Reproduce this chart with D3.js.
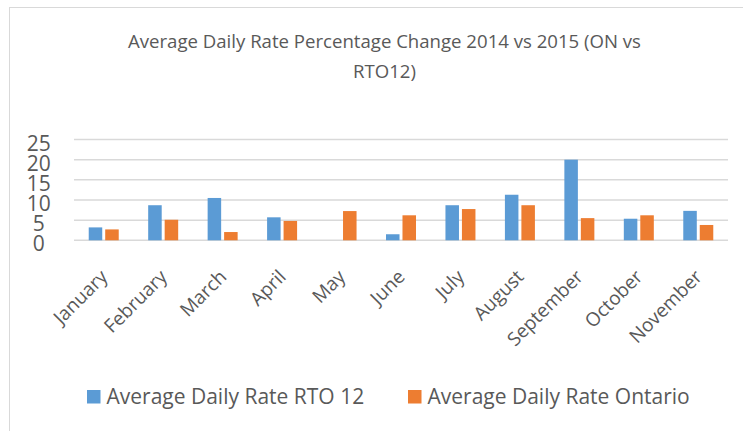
<!DOCTYPE html>
<html><head><meta charset="utf-8">
<script src="https://cdn.jsdelivr.net/npm/d3@7"></script>
<style>
html,body{margin:0;padding:0;background:#fff;}
svg{display:block;font-family:"Open Sans",sans-serif;}
</style></head>
<body>
<svg id="chart" width="743" height="431"></svg>
<script>
const titleLines = ["Average Daily Rate Percentage Change 2014 vs 2015 (ON vs", "RTO12)"];
const months = ["January","February","March","April","May","June","July","August","September","October","November"];
const seriesNames = ["Average Daily Rate RTO 12","Average Daily Rate Ontario"];
const rto12 = [3.2, 8.7, 10.5, 5.7, 0, 1.5, 8.7, 11.3, 20.0, 5.35, 7.3];
const ontario = [2.7, 5.1, 2.05, 4.8, 7.25, 6.2, 7.75, 8.7, 5.5, 6.2, 3.8];
const yTicks = [0, 5, 10, 15, 20, 25];
const colors = ["#5B9BD5", "#ED7D31"];

const svg = d3.select("#chart");
const textColor = "#595959";

// chart border
svg.append("rect").attr("x", 9.5).attr("y", 7.5).attr("width", 800).attr("height", 500)
  .attr("fill", "none").attr("stroke", "#d9d9d9").attr("stroke-width", 1);

// title
svg.append("g").selectAll("text").data(titleLines).join("text")
  .attr("x", 384.5).attr("y", (d, i) => 47.7 + i * 30)
  .attr("text-anchor", "middle").attr("font-size", 18.6).attr("fill", textColor)
  .text(d => d);

const x0 = d3.scaleBand().domain(months).range([74, 728]);
const x1 = d3.scaleBand().domain([0, 1]).range([0, 30]).paddingInner(0.18);
const y = d3.scaleLinear().domain([0, 25]).range([240.3, 139.5]);

// gridlines
svg.append("g").selectAll("line").data(yTicks).join("line")
  .attr("x1", 74).attr("x2", 728)
  .attr("y1", d => y(d)).attr("y2", d => y(d))
  .attr("stroke", "#d9d9d9").attr("stroke-width", 1.5);

// y labels
svg.append("g").selectAll("text").data(yTicks).join("text")
  .attr("x", 38.7).attr("y", d => y(d) + 11)
  .attr("text-anchor", "middle").attr("font-size", 21).attr("fill", textColor)
  .text(d => d);

// bars
const data = months.map((m, i) => ({ m, vals: [rto12[i], ontario[i]] }));
const groups = svg.append("g").selectAll("g").data(data).join("g")
  .attr("transform", d => `translate(${x0(d.m) + (x0.bandwidth() - 30) / 2},0)`);
groups.selectAll("rect").data(d => d.vals.map((v, k) => ({ v, k }))).join("rect")
  .attr("x", d => x1(d.k)).attr("width", x1.bandwidth())
  .attr("y", d => y(d.v)).attr("height", d => y(0) - y(d.v))
  .attr("fill", d => colors[d.k]);

// x labels
svg.append("g").selectAll("text").data(months).join("text")
  .attr("transform", d => `translate(${x0(d) + x0.bandwidth() / 2 + 5},278) rotate(-45)`)
  .attr("text-anchor", "end").attr("font-size", 19).attr("fill", textColor)
  .text(d => d);

// legend
const legendX = [87, 408];
const lg = svg.append("g").selectAll("g").data(seriesNames).join("g")
  .attr("transform", (d, i) => `translate(${legendX[i]},390)`);
lg.append("rect").attr("width", 13.5).attr("height", 13.5).attr("fill", (d, i) => colors[i]);
lg.append("text").attr("x", 19.5).attr("y", 14).attr("font-size", 21).attr("fill", textColor).text(d => d);
</script>
</body></html>
